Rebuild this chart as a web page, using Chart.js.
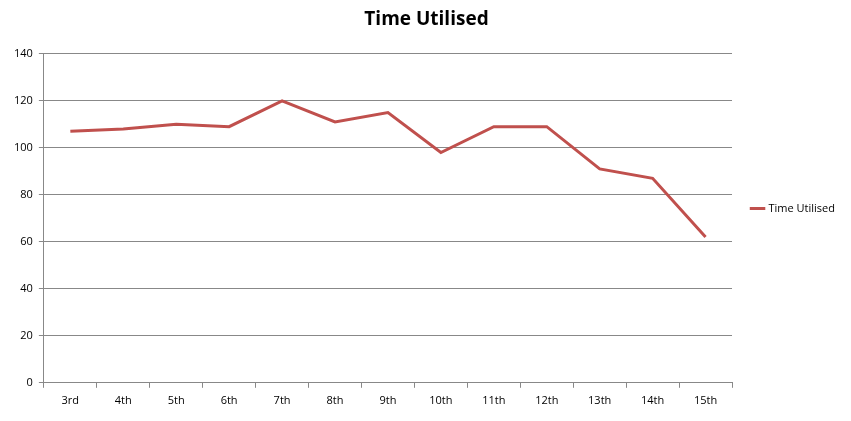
<!DOCTYPE html>
<html>
<head>
<meta charset="utf-8">
<script src="https://cdn.jsdelivr.net/npm/chart.js@4"></script>
<style>
  html, body { margin: 0; padding: 0; background: #fff; }
  #wrap { width: 851px; height: 421px; }
</style>
</head>
<body>
<div id="wrap"><canvas id="chart" width="851" height="421"></canvas></div>
<script>
const days = ['3rd', '4th', '5th', '6th', '7th', '8th', '9th', '10th', '11th', '12th', '13th', '14th', '15th'];
const timeUtilised = [107, 108, 110, 109, 120, 111, 115, 98, 109, 109, 91, 87, 62];

new Chart(document.getElementById('chart'), {
    type: 'line',
    data: {
        labels: days,
        datasets: [{
            label: 'Time Utilised',
            data: timeUtilised,
            borderColor: '#C0504D',
            backgroundColor: '#C0504D',
            borderWidth: 3,
            pointRadius: 0,
            tension: 0
        }]
    },
    options: {
        responsive: false,
        animation: false,
        layout: { padding: { left: 8, right: 6, top: 4, bottom: 8 } },
        plugins: {
            title: {
                display: true,
                text: 'Time Utilised',
                color: '#000',
                font: { family: 'Open Sans', size: 19, weight: 'bold' },
                padding: { top: 4, bottom: 23 }
            },
            legend: {
                position: 'right',
                labels: {
                    usePointStyle: true,
                    pointStyle: 'line',
                    boxWidth: 26,
                    color: '#000',
                    font: { family: 'Open Sans', size: 11 },
                    padding: 20
                }
            },
            tooltip: { enabled: false }
        },
        scales: {
            x: {
                offset: true,
                grid: { offset: true, drawOnChartArea: false, color: '#888', tickLength: 5 },
                border: { color: '#888' },
                ticks: { color: '#000', font: { family: 'Open Sans', size: 11 }, padding: 6 }
            },
            y: {
                min: 0,
                max: 140,
                ticks: { stepSize: 20, color: '#000', font: { family: 'Open Sans', size: 11 }, padding: 6 },
                grid: { color: '#888', tickLength: 5 },
                border: { color: '#888' }
            }
        }
    }
});
</script>
</body>
</html>
